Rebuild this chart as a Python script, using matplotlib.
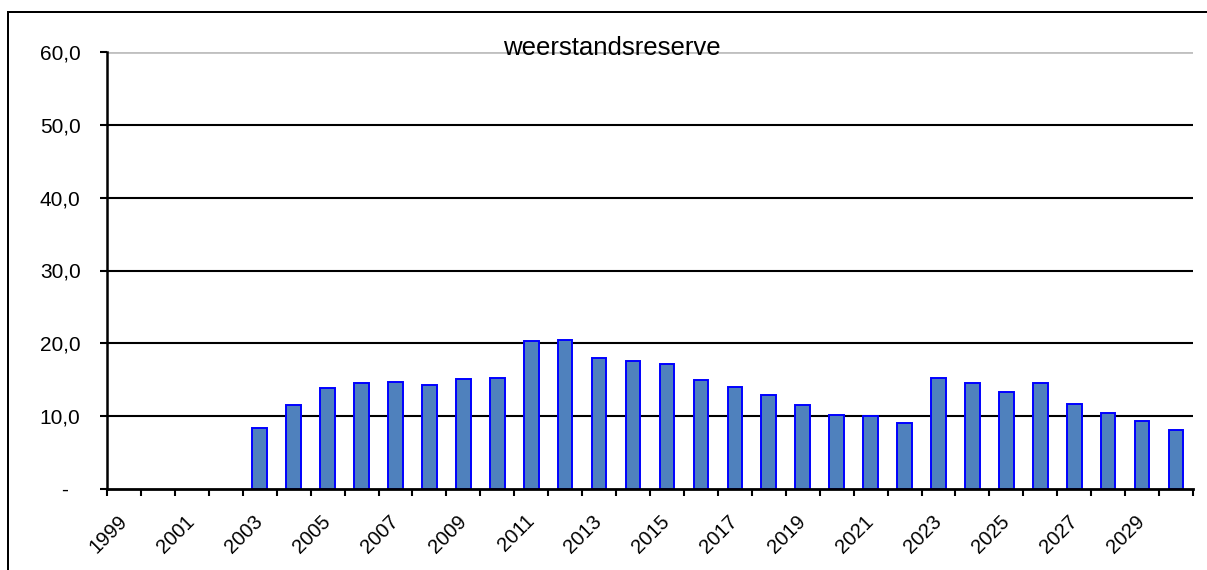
import matplotlib.pyplot as plt
from matplotlib.patches import Rectangle
import numpy as np

plt.rcParams['font.family'] = ['Liberation Sans', 'DejaVu Sans']

years = list(range(1999, 2031))
# weerstandsreserve per jaar (geen waarden voor 1999-2002)
values = [None, None, None, None,
          8.4, 11.6, 13.9, 14.5, 14.7, 14.3, 15.1, 15.3,
          20.3, 20.5, 18.0, 17.6, 17.1, 15.0, 14.0, 12.9,
          11.6, 10.2, 10.05, 9.0, 15.3, 14.5, 13.3, 14.6,
          11.7, 10.4, 9.4, 8.05]
y_ticks = [0, 10, 20, 30, 40, 50, 60]
y_labels = ['-  ', '10,0', '20,0', '30,0', '40,0', '50,0', '60,0']
title = 'weerstandsreserve'

W, H = 1207, 570
fig = plt.figure(figsize=(W / 100, H / 100), dpi=100)
ax = fig.add_axes([107 / W, 1 - 489 / H, (1193 - 107) / W, (489 - 52) / H])

x = np.arange(len(years))
bx = [i for i, v in zip(x, values) if v is not None]
bv = [v for v in values if v is not None]
ax.bar(bx, bv, 0.43, color='#4F81BD', edgecolor='#0000FF', linewidth=1.4, zorder=3)

ax.set_xlim(-0.5, len(years) - 0.5)
ax.set_ylim(0, 60)

# gridlines
for v in y_ticks[1:-1]:
    ax.axhline(v, color='black', linewidth=1.5, zorder=1)
ax.axhline(60, color='#c0c0c0', linewidth=2, zorder=1)

ax.set_yticks(y_ticks)
ax.set_yticklabels(y_labels, fontsize=15)
ax.tick_params(axis='y', length=5, width=1.5, pad=14)

# tick marks at category boundaries, labels at centres
ax.set_xticks(np.arange(-0.5, len(years), 1))
ax.set_xticklabels([])
ax.tick_params(axis='x', which='major', length=5, width=1.5)
ax.set_xticks(x[::2], [str(y) for y in years[::2]], minor=True)
ax.tick_params(axis='x', which='minor', length=0, pad=21, labelsize=14.5, labelrotation=45)
for lbl in ax.get_xticklabels(minor=True):
    lbl.set_ha('right')
    lbl.set_va('center')
    lbl.set_rotation_mode('anchor')

for s in ['top', 'right']:
    ax.spines[s].set_visible(False)
ax.spines['left'].set_linewidth(1.8)
ax.spines['bottom'].set_linewidth(2)
ax.spines['bottom'].set_zorder(4)

fig.text(612 / W, 1 - 55 / H, title, fontsize=18.5, ha='center', va='baseline')

# chart border (runs off the right and bottom of the image), drawn as thin filled strips
fig.add_artist(Rectangle((7 / W, 1 - 13 / H), 1.0, 2 / H, transform=fig.transFigure,
                         facecolor='black', linewidth=0))
fig.add_artist(Rectangle((7 / W, 0.0), 2 / W, 1 - 11 / H, transform=fig.transFigure,
                         facecolor='black', linewidth=0))

fig.savefig('out.png', dpi=100)
